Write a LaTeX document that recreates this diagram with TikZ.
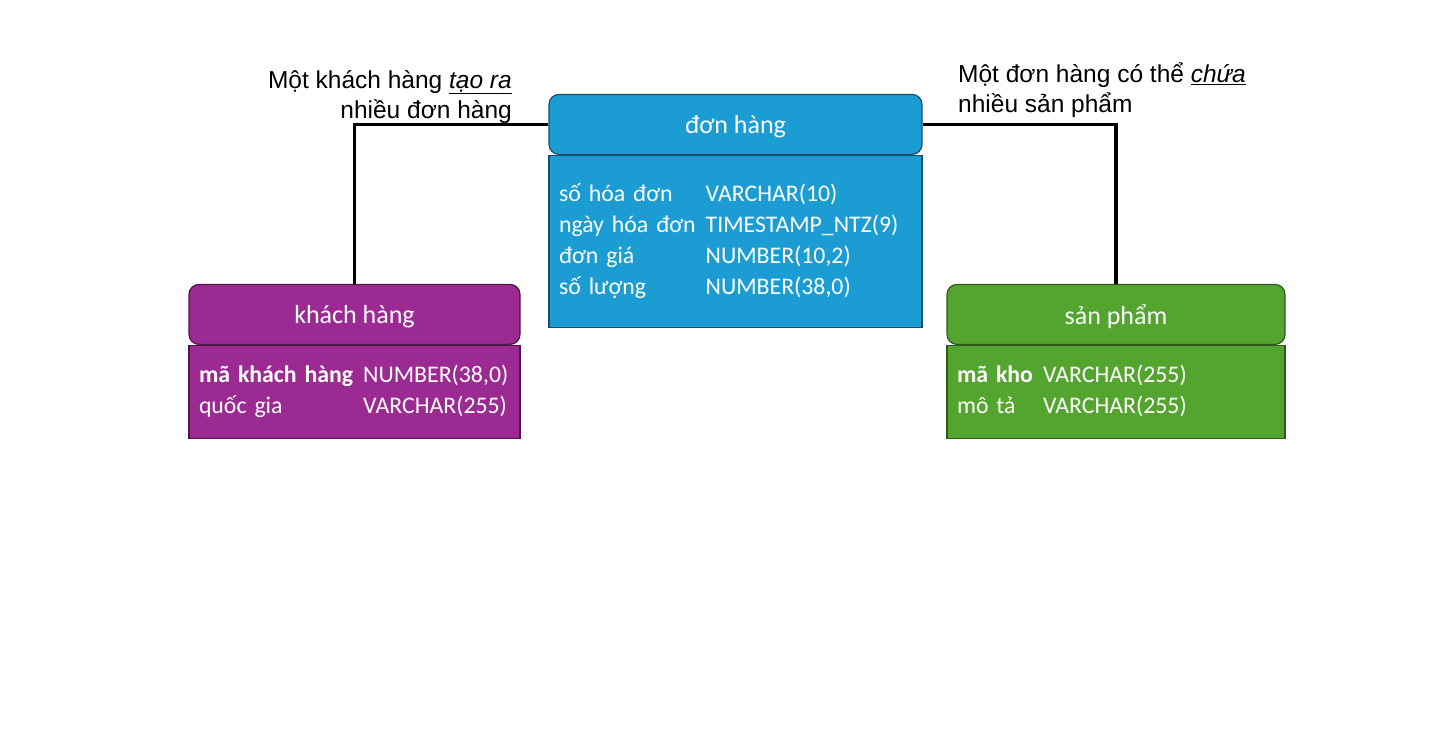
\documentclass[tikz,border=0pt]{standalone}
\usepackage{fontspec}
\setmainfont{Carlito}
\newfontfamily\lblfont{Liberation Sans}
\usetikzlibrary{positioning}

\definecolor{bluefill}{HTML}{1B9DD4}
\definecolor{blueline}{HTML}{1A4E6E}
\definecolor{purplefill}{HTML}{9B2A93}
\definecolor{purpleline}{HTML}{4E1649}
\definecolor{greenfill}{HTML}{53A530}
\definecolor{greenline}{HTML}{2D5A1B}

\begin{document}
\begin{tikzpicture}[
		x=1pt, y=-1pt,
		tblhead/.style={draw, line width=1.2pt, rounded corners=10pt, text=white, inner sep=0pt, minimum height=60pt, text depth=0pt, font=\fontsize{26}{30}\selectfont},
		tblbody/.style={draw, line width=1.2pt, text=white, inner xsep=10pt, inner ysep=0pt, align=left, font=\fontsize{23.8}{31}\selectfont},
		link/.style={line width=3.5pt},
		relation/.style={inner sep=0pt, font=\lblfont\fontsize{24.5}{30}\selectfont},
	]
		\useasboundingbox (0,0) rectangle (1456,736);
		
		\node (donhangbody) [tblbody, fill=bluefill, draw=blueline, anchor=north, minimum width=373pt, minimum height=172pt, text width=353pt] at (735.5,155)
			{\begin{tabular}{@{}l@{\hspace{10pt}}l@{}}
				số hóa đơn & VARCHAR(10)\\
				ngày hóa đơn & TIMESTAMP\_NTZ(9)\\
				đơn giá & NUMBER(10,2)\\
				số lượng & NUMBER(38,0)
			\end{tabular}};
		\node (donhang) [tblhead, fill=bluefill, draw=blueline, anchor=south, minimum width=373pt] at (735.5,155) {đơn hàng};
		
		\node (khachbody) [tblbody, fill=purplefill, draw=purpleline, anchor=north, minimum width=331pt, minimum height=93pt, text width=311pt] at (354.5,345)
			{\begin{tabular}{@{}l@{\hspace{10pt}}l@{}}
				\textbf{mã khách hàng} & NUMBER(38,0)\\
				quốc gia & VARCHAR(255)
			\end{tabular}};
		\node (khach) [tblhead, fill=purplefill, draw=purpleline, anchor=south, minimum width=331pt] at (354.5,345) {khách hàng};
		
		\node (sanphambody) [tblbody, fill=greenfill, draw=greenline, anchor=north, minimum width=338pt, minimum height=93pt, text width=318pt] at (1116,345)
			{\begin{tabular}{@{}l@{\hspace{10pt}}l@{}}
				\textbf{mã kho} & VARCHAR(255)\\
				mô tả & VARCHAR(255)
			\end{tabular}};
		\node (sanpham) [tblhead, fill=greenfill, draw=greenline, anchor=south, minimum width=338pt] at (1116,345) {sản phẩm};
		
		\draw[link] (donhang.west) -- (donhang.west-|khach.north) -- (khach.north);
		\draw[link] (donhang.east) -- (donhang.east-|sanpham.north) -- (sanpham.north);
		
		\node (taora) [relation, anchor=east, align=right] at (512,97) {Một khách hàng \underline{\textit{tạo ra}}\\nhiều đơn hàng};
		\node (chua) [relation, anchor=west, align=left] at (958,90) {Một đơn hàng có thể \underline{\textit{chứa}}\\nhiều sản phẩm};
	\end{tikzpicture}
\end{document}
